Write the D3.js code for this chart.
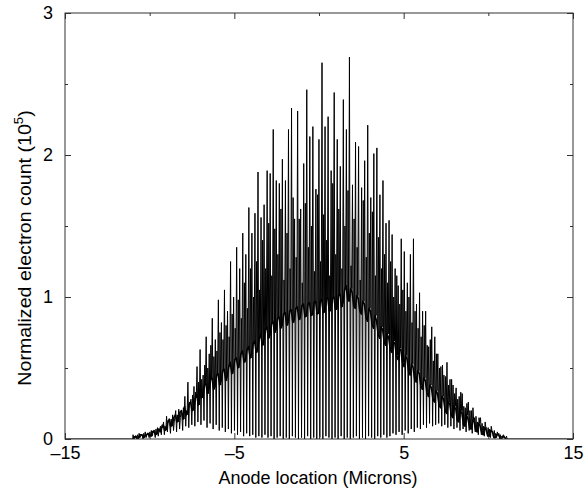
<!DOCTYPE html>
<html>
<head>
<meta charset="utf-8">
<script src="https://cdn.jsdelivr.net/npm/d3@7"></script>
<style>
  body { margin: 0; background: #fff; }
  svg text { font-family: "Liberation Sans", Arial, sans-serif; font-size: 18px; fill: #000; }
  .frame { fill: none; stroke: #333; stroke-width: 1; }
  .axis path { display: none; }
  .axis line { stroke: #333; }
  .spikes { fill: none; stroke: #000; stroke-width: 1; }
  .mean { fill: none; stroke: #000; stroke-width: 1.6; stroke-linejoin: round; }
</style>
</head>
<body>
<svg id="chart" width="587" height="493"></svg>
<script>
// one spike period every 0.18 micron, starting at -11 micron
const xStart = -11;
const pitch = 0.18;

// tall spike heights, one per period (10^5 counts)
const spikeTop = [
  0.03, 0.02, 0.04, 0.03, 0.05, 0.04, 0.06, 0.05, 0.08, 0.09,
  0.12, 0.16, 0.11, 0.17, 0.20, 0.21, 0.18, 0.30, 0.40, 0.28,
  0.37, 0.51, 0.63, 0.45, 0.72, 0.60, 0.85, 0.70, 0.98, 0.82,
  1.05, 0.90, 1.25, 1.00, 1.35, 1.20, 1.45, 1.30, 1.63, 1.45,
  1.59, 1.88, 1.56, 1.65, 1.89, 1.87, 2.18, 1.82, 1.80, 1.97,
  1.82, 2.18, 2.33, 1.55, 2.31, 1.62, 1.94, 2.46, 2.13, 2.20,
  1.76, 2.11, 2.65, 2.20, 2.27, 1.89, 2.44, 2.11, 1.92, 2.39,
  2.18, 2.69, 1.79, 2.09, 2.06, 1.77, 1.96, 2.21, 1.70, 2.01,
  2.05, 1.72, 1.82, 1.52, 1.54, 1.44, 1.20, 1.08, 1.41, 1.32,
  1.10, 1.30, 1.41, 0.95, 1.03, 0.90, 0.90, 0.65, 0.79, 0.72,
  0.60, 0.51, 0.45, 0.54, 0.42, 0.38, 0.36, 0.30, 0.32, 0.22,
  0.26, 0.20, 0.15, 0.12, 0.15, 0.09, 0.08, 0.07, 0.05, 0.04,
  0.04, 0.02, 0.01
];

// secondary (shorter) spikes, one per period
const spikeMid = [
  0.02, 0.03, 0.02, 0.04, 0.03, 0.05, 0.04, 0.07, 0.06, 0.10,
  0.09, 0.13, 0.14, 0.12, 0.17, 0.15, 0.22, 0.20, 0.26, 0.31,
  0.33, 0.40, 0.42, 0.52, 0.50, 0.66, 0.58, 0.62, 0.75, 0.70,
  0.80, 0.72, 0.88, 0.78, 0.98, 0.85, 1.10, 0.92, 1.20, 1.00,
  1.25, 1.05, 1.40, 1.20, 1.52, 1.15, 1.48, 1.30, 1.62, 1.12,
  1.45, 1.20, 1.70, 1.28, 1.55, 1.10, 1.66, 1.35, 1.50, 1.18,
  1.72, 1.25, 1.58, 1.40, 1.15, 1.80, 1.30, 1.62, 1.20, 1.50,
  1.75, 1.22, 1.55, 1.35, 1.12, 1.68, 1.28, 1.45, 1.60, 1.15,
  1.42, 1.20, 1.30, 1.10, 1.25, 1.00, 1.15, 0.95, 1.05, 0.90,
  1.00, 0.82, 0.90, 0.78, 0.72, 0.80, 0.66, 0.70, 0.55, 0.60,
  0.50, 0.52, 0.44, 0.38, 0.42, 0.32, 0.28, 0.33, 0.23, 0.25,
  0.20, 0.22, 0.16, 0.15, 0.11, 0.12, 0.08, 0.09, 0.06, 0.05,
  0.03, 0.03, 0.02
];

// deep minima between spikes, one per period
const spikeLow = [
  0.00, 0.00, 0.01, 0.00, 0.01, 0.01, 0.02, 0.01, 0.02, 0.03,
  0.03, 0.05, 0.04, 0.06, 0.05, 0.07, 0.06, 0.09, 0.08, 0.10,
  0.09, 0.12, 0.10, 0.13, 0.08, 0.11, 0.07, 0.10, 0.06, 0.08,
  0.05, 0.07, 0.04, 0.06, 0.03, 0.05, 0.02, 0.04, 0.02, 0.03,
  0.01, 0.02, 0.01, 0.03, 0.01, 0.02, 0.00, 0.01, 0.02, 0.00,
  0.01, 0.00, 0.02, 0.01, 0.00, 0.01, 0.00, 0.02, 0.00, 0.01,
  0.00, 0.01, 0.00, 0.02, 0.01, 0.00, 0.01, 0.00, 0.02, 0.00,
  0.01, 0.00, 0.01, 0.02, 0.00, 0.01, 0.00, 0.02, 0.01, 0.00,
  0.02, 0.01, 0.03, 0.01, 0.02, 0.04, 0.03, 0.05, 0.03, 0.06,
  0.04, 0.07, 0.05, 0.08, 0.07, 0.10, 0.08, 0.11, 0.09, 0.10,
  0.11, 0.09, 0.10, 0.08, 0.09, 0.07, 0.08, 0.06, 0.07, 0.05,
  0.06, 0.04, 0.05, 0.03, 0.03, 0.02, 0.02, 0.01, 0.01, 0.01,
  0.00, 0.01, 0.00
];

// noisy mean level, two samples per period
const meanLevel = [
  0.00, 0.01, 0.02, 0.00, 0.01, 0.03, 0.03, 0.01, 0.02, 0.03,
  0.04, 0.02, 0.02, 0.05, 0.06, 0.03, 0.04, 0.07, 0.05, 0.08,
  0.10, 0.06, 0.07, 0.12, 0.14, 0.09, 0.10, 0.15, 0.17, 0.12,
  0.13, 0.19, 0.20, 0.14, 0.23, 0.17, 0.18, 0.25, 0.26, 0.20,
  0.22, 0.29, 0.31, 0.24, 0.35, 0.29, 0.30, 0.38, 0.39, 0.32,
  0.35, 0.42, 0.43, 0.35, 0.37, 0.45, 0.46, 0.38, 0.41, 0.48,
  0.49, 0.41, 0.44, 0.51, 0.54, 0.46, 0.49, 0.56, 0.57, 0.50,
  0.53, 0.60, 0.62, 0.54, 0.56, 0.63, 0.65, 0.57, 0.60, 0.67,
  0.69, 0.61, 0.64, 0.71, 0.74, 0.66, 0.70, 0.77, 0.79, 0.71,
  0.73, 0.81, 0.83, 0.75, 0.77, 0.85, 0.86, 0.78, 0.80, 0.88,
  0.89, 0.80, 0.82, 0.90, 0.91, 0.82, 0.84, 0.92, 0.93, 0.84,
  0.86, 0.94, 0.95, 0.86, 0.87, 0.95, 0.96, 0.87, 0.88, 0.96,
  0.97, 0.88, 0.89, 0.97, 0.98, 0.89, 0.90, 0.99, 0.99, 0.90,
  0.91, 0.99, 1.00, 0.91, 0.92, 1.01, 1.02, 0.93, 0.96, 1.05,
  1.08, 0.99, 0.97, 1.06, 1.03, 0.94, 0.92, 1.01, 0.99, 0.90,
  0.88, 0.97, 0.95, 0.86, 0.83, 0.92, 0.90, 0.81, 0.78, 0.87,
  0.83, 0.74, 0.71, 0.79, 0.77, 0.68, 0.66, 0.74, 0.71, 0.63,
  0.61, 0.69, 0.67, 0.59, 0.56, 0.64, 0.62, 0.54, 0.51, 0.59,
  0.56, 0.48, 0.45, 0.53, 0.50, 0.42, 0.40, 0.48, 0.46, 0.38,
  0.35, 0.43, 0.41, 0.33, 0.30, 0.38, 0.36, 0.28, 0.26, 0.34,
  0.32, 0.24, 0.22, 0.30, 0.28, 0.20, 0.18, 0.26, 0.25, 0.17,
  0.15, 0.23, 0.21, 0.13, 0.12, 0.20, 0.18, 0.10, 0.09, 0.17,
  0.14, 0.08, 0.07, 0.13, 0.12, 0.06, 0.05, 0.11, 0.09, 0.04,
  0.03, 0.08, 0.06, 0.02, 0.02, 0.06, 0.05, 0.01, 0.01, 0.03,
  0.03, 0.01, 0.00, 0.02, 0.01, 0.00
];

const xTicks = [-15, -10, -5, 0, 5, 10, 15];
const xTickLabels = ['\u201315', '', '\u20135', '', '5', '', '15'];
const yTicks = [0, 0.5, 1, 1.5, 2, 2.5, 3];
const yTickLabels = ['0', '', '1', '', '2', '', '3'];

const margin = {top: 13, left: 65, right: 14, bottom: 54};
const W = 587, H = 493;
const w = W - margin.left - margin.right;
const h = H - margin.top - margin.bottom;

const svg = d3.select('#chart');
const g = svg.append('g')
    .attr('transform', 'translate(' + margin.left + ',' + margin.top + ')');

const x = d3.scaleLinear().domain([-15, 15]).range([0, w]);
const y = d3.scaleLinear().domain([0, 3]).range([h, 0]);

g.append('clipPath').attr('id', 'plot-clip')
  .append('rect').attr('width', w).attr('height', h);

const line = d3.line()
    .x(d => x(d[0]))
    .y(d => y(d[1]));

// spike trace: tall spike, deep dip, short spike, back to the mean
const spikePoints = [[-15, 0], [xStart, 0]];
spikeTop.forEach((top, i) => {
    const x0 = xStart + i * pitch;
    spikePoints.push([x0 + pitch * 0.10, top]);
    spikePoints.push([x0 + pitch * 0.38, spikeLow[i]]);
    spikePoints.push([x0 + pitch * 0.62, spikeMid[i]]);
    spikePoints.push([x0 + pitch * 0.85, meanLevel[2 * i + 1]]);
});
spikePoints.push([xStart + spikeTop.length * pitch, 0]);
spikePoints.push([15, 0]);

// noisy mean curve
const meanPoints = meanLevel.map((v, k) => [xStart + k * pitch / 2, v]);

g.append('path')
    .attr('class', 'spikes')
    .attr('clip-path', 'url(#plot-clip)')
    .attr('d', line(spikePoints));

g.append('path')
    .attr('class', 'mean')
    .attr('clip-path', 'url(#plot-clip)')
    .attr('d', line(meanPoints));

// axes, ticks pointing inward, short ticks where no label
function shortTicks(sel, labels, attr, len) {
    sel.selectAll('.tick').each(function(d, i) {
        if (labels[i] === '') d3.select(this).select('line').attr(attr, len);
    });
}

const xBottom = g.append('g').attr('class', 'axis')
    .attr('transform', 'translate(0,' + h + ')')
    .call(d3.axisBottom(x).tickValues(xTicks).tickSize(-6).tickPadding(7)
        .tickFormat((d, i) => xTickLabels[i]));
shortTicks(xBottom, xTickLabels, 'y2', -3);

const xTop = g.append('g').attr('class', 'axis')
    .call(d3.axisTop(x).tickValues(xTicks).tickSize(-6).tickFormat(''));
shortTicks(xTop, xTickLabels, 'y2', 3);

const yLeft = g.append('g').attr('class', 'axis')
    .call(d3.axisLeft(y).tickValues(yTicks).tickSize(-6).tickPadding(12)
        .tickFormat((d, i) => yTickLabels[i]));
shortTicks(yLeft, yTickLabels, 'x2', 3);

const yRight = g.append('g').attr('class', 'axis')
    .attr('transform', 'translate(' + w + ',0)')
    .call(d3.axisRight(y).tickValues(yTicks).tickSize(-6).tickFormat(''));
shortTicks(yRight, yTickLabels, 'x2', -3);

g.selectAll('.axis text')
    .style('font-family', '"Liberation Sans", Arial, sans-serif')
    .style('font-size', '18px')
    .attr('fill', '#000');

g.append('rect').attr('class', 'frame')
    .attr('width', w).attr('height', h);

// axis titles
g.append('text')
    .attr('x', w / 2 - 1)
    .attr('y', h + 45)
    .attr('text-anchor', 'middle')
    .text('Anode location (Microns)');

const yTitle = g.append('text')
    .attr('transform', 'translate(' + (-34) + ',' + (h / 2 + 22) + ') rotate(-90) scale(1.09,1)')
    .attr('text-anchor', 'middle');
yTitle.append('tspan').text('Normalized electron count (10');
yTitle.append('tspan').attr('dy', -8).style('font-size', '12px').text('5');
yTitle.append('tspan').attr('dy', 8).text(')');
</script>
</body>
</html>
